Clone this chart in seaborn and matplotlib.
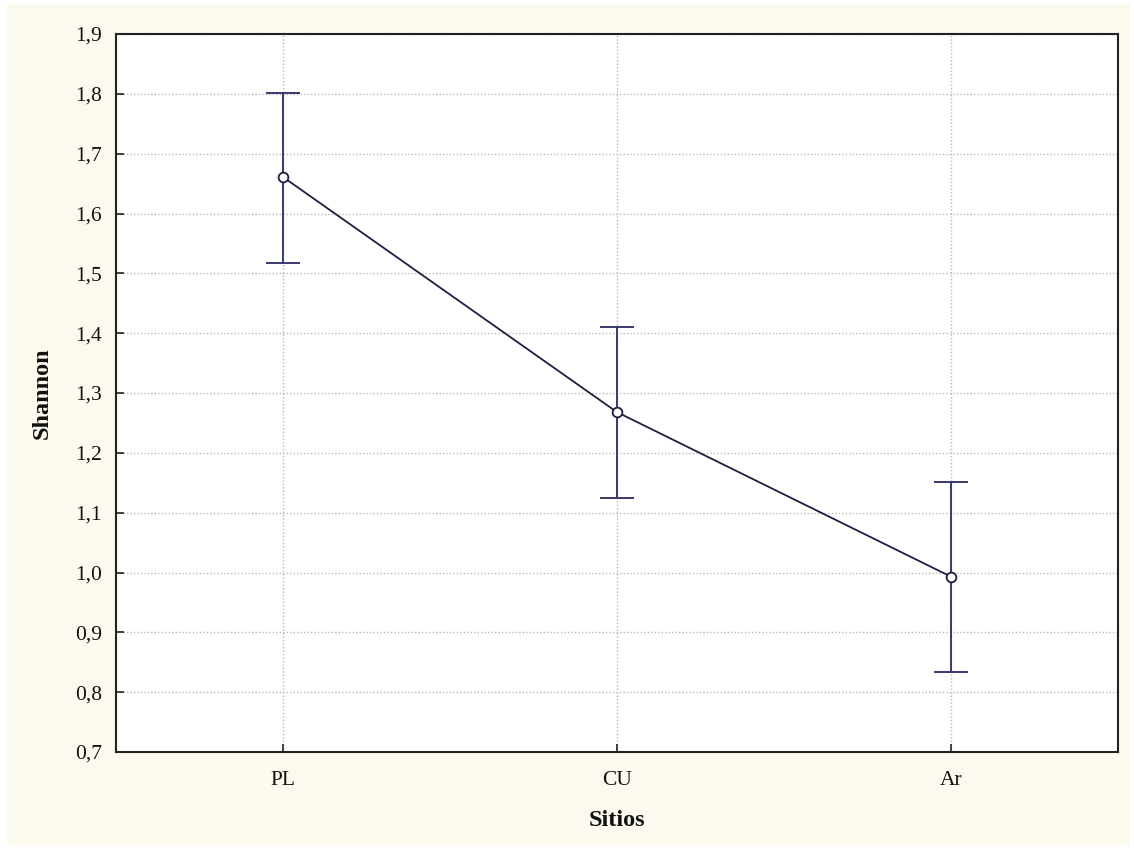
import pandas as pd
import seaborn as sns
import matplotlib.pyplot as plt
from matplotlib.patches import Rectangle
from matplotlib.ticker import FuncFormatter, MultipleLocator

# Data
sitios = ["PL", "CU", "Ar"]
shannon_mean = [1.661, 1.268, 0.993]
shannon_upper = [1.802, 1.410, 1.151]
shannon_lower = [1.518, 1.124, 0.833]

df = pd.DataFrame({"Sitios": sitios, "Shannon": shannon_mean})

sns.set_style("white")
plt.rcParams["font.family"] = ["Liberation Serif", "DejaVu Serif"]

CREAM = "#fcf9ee"
LINE = "#1e1e40"
ERR = "#38386e"

fig = plt.figure(figsize=(11.34, 8.49), dpi=100, facecolor="white")
fig.patches.append(Rectangle((7 / 1134, 4 / 849), 1123 / 1134, 841 / 849,
                             transform=fig.transFigure, facecolor=CREAM,
                             edgecolor="none", zorder=-10))
ax = fig.add_axes([116 / 1134, 1 - 752 / 849, 1002 / 1134, 718 / 849])
ax.set_facecolor("white")

# grid
ax.set_axisbelow(True)
ax.grid(True, color="#b8b8b8", linestyle=(0, (1, 1.5)), linewidth=1.0)

# error bars
x_pos = range(len(sitios))
ax.errorbar(list(x_pos), shannon_mean,
            yerr=[[m - l for m, l in zip(shannon_mean, shannon_lower)],
                  [u - m for m, u in zip(shannon_mean, shannon_upper)]],
            fmt="none", ecolor=ERR, elinewidth=1.4, capsize=12, capthick=1.4, zorder=2)

sns.lineplot(data=df, x="Sitios", y="Shannon", ax=ax, color=LINE, linewidth=1.3,
             marker="o", markersize=7, markerfacecolor="white",
             markeredgecolor=LINE, markeredgewidth=1.3, sort=False, zorder=3)

ax.set_xlim(-0.5, 2.5)
ax.set_ylim(0.7, 1.9)
ax.yaxis.set_major_locator(MultipleLocator(0.1))
ax.yaxis.set_major_formatter(FuncFormatter(lambda v, p: f"{v:.1f}".replace(".", ",")))

for s in ax.spines.values():
    s.set_color("#222222")
    s.set_linewidth(1.5)

ax.tick_params(axis="both", direction="in", length=6, width=1.2, colors="#222222",
               labelsize=15.5, labelcolor="#111111", left=True, bottom=True)
ax.tick_params(axis="y", pad=10)
ax.tick_params(axis="x", pad=14)

ax.set_xlabel("Sitios", fontsize=17.5, fontweight="bold", labelpad=14, color="#111111")
ax.set_ylabel("Shannon", fontsize=17.5, fontweight="bold", labelpad=16, color="#111111")

fig.savefig("out.png", dpi=100, facecolor=fig.get_facecolor())
